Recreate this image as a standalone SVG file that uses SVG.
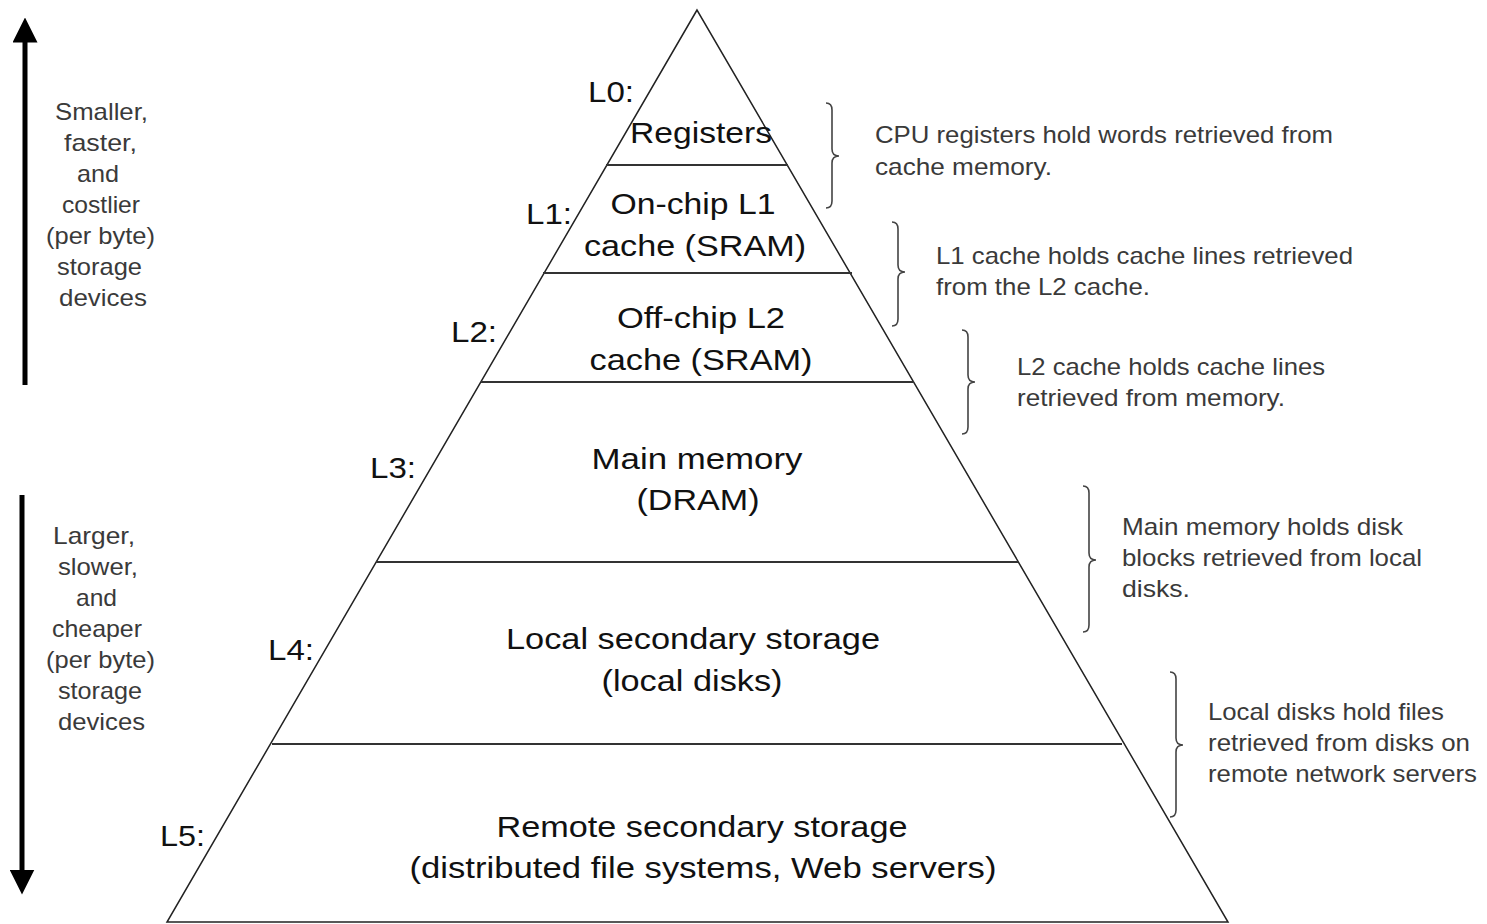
<svg xmlns="http://www.w3.org/2000/svg" width="1487" height="924" viewBox="0 0 1487 924">
<defs>
<style>
.big{font-family:"Liberation Sans",Arial,sans-serif;font-size:30px;fill:#111;text-anchor:middle}
.lvl{font-family:"Liberation Sans",Arial,sans-serif;font-size:30px;fill:#111}
.note{font-family:"Liberation Sans",Arial,sans-serif;font-size:24px;fill:#3a3a3a}
.side{font-family:"Liberation Sans",Arial,sans-serif;font-size:24px;fill:#3a3a3a;text-anchor:middle}
.edge{fill:none;stroke:#222;stroke-width:1.5}
.div{stroke:#333;stroke-width:2.2}
.brace{fill:none;stroke:#444;stroke-width:1.6}
.arrow{stroke:#000;stroke-width:5}
</style>
<marker id="head" viewBox="0 0 10 10" refX="5" refY="5" markerWidth="5" markerHeight="5" orient="auto-start-reverse" markerUnits="strokeWidth">
<path d="M0,0 L10,5 L0,10 z" fill="#000"/>
</marker>
</defs>
<rect width="1487" height="924" fill="#fff"/>

<g id="pyramid">
<polygon class="edge" points="697,10 167,922 1228,922"/>
<line class="div" x1="606" y1="165" x2="788" y2="165"/>
<line class="div" x1="543" y1="273" x2="852" y2="273"/>
<line class="div" x1="481" y1="382" x2="914" y2="382"/>
<line class="div" x1="376" y1="562" x2="1018" y2="562"/>
<line class="div" x1="272" y1="744" x2="1122" y2="744"/>
</g>

<g id="L0">
<text class="lvl" x="588" y="102" textLength="46" lengthAdjust="spacingAndGlyphs">L0:</text>
<text class="big" x="701" y="143" textLength="142" lengthAdjust="spacingAndGlyphs">Registers</text>
</g>
<g id="L1">
<text class="lvl" x="526" y="224" textLength="46" lengthAdjust="spacingAndGlyphs">L1:</text>
<text class="big" x="693" y="214" textLength="165" lengthAdjust="spacingAndGlyphs">On-chip L1</text>
<text class="big" x="695" y="256" textLength="222" lengthAdjust="spacingAndGlyphs">cache (SRAM)</text>
</g>
<g id="L2">
<text class="lvl" x="451" y="342" textLength="46" lengthAdjust="spacingAndGlyphs">L2:</text>
<text class="big" x="701" y="328" textLength="168" lengthAdjust="spacingAndGlyphs">Off-chip L2</text>
<text class="big" x="701" y="370" textLength="223" lengthAdjust="spacingAndGlyphs">cache (SRAM)</text>
</g>
<g id="L3">
<text class="lvl" x="370" y="478" textLength="46" lengthAdjust="spacingAndGlyphs">L3:</text>
<text class="big" x="697" y="469" textLength="211" lengthAdjust="spacingAndGlyphs">Main memory</text>
<text class="big" x="698" y="510" textLength="123" lengthAdjust="spacingAndGlyphs">(DRAM)</text>
</g>
<g id="L4">
<text class="lvl" x="268" y="660" textLength="46" lengthAdjust="spacingAndGlyphs">L4:</text>
<text class="big" x="693" y="649" textLength="374" lengthAdjust="spacingAndGlyphs">Local secondary storage</text>
<text class="big" x="692" y="691" textLength="181" lengthAdjust="spacingAndGlyphs">(local disks)</text>
</g>
<g id="L5">
<text class="lvl" x="160" y="846" textLength="45" lengthAdjust="spacingAndGlyphs">L5:</text>
<text class="big" x="702" y="837" textLength="411" lengthAdjust="spacingAndGlyphs">Remote secondary storage</text>
<text class="big" x="703" y="878" textLength="587" lengthAdjust="spacingAndGlyphs">(distributed file systems, Web servers)</text>
</g>

<g id="side-top">
<text class="side" x="101.5" y="120" textLength="93" lengthAdjust="spacingAndGlyphs">Smaller,</text>
<text class="side" x="100.5" y="151" textLength="73" lengthAdjust="spacingAndGlyphs">faster,</text>
<text class="side" x="98" y="182" textLength="42" lengthAdjust="spacingAndGlyphs">and</text>
<text class="side" x="101" y="213" textLength="78" lengthAdjust="spacingAndGlyphs">costlier</text>
<text class="side" x="100.5" y="244" textLength="109" lengthAdjust="spacingAndGlyphs">(per byte)</text>
<text class="side" x="99.5" y="275" textLength="85" lengthAdjust="spacingAndGlyphs">storage</text>
<text class="side" x="103" y="306" textLength="88" lengthAdjust="spacingAndGlyphs">devices</text>
</g>
<g id="side-bottom">
<text class="side" x="94" y="544" textLength="82" lengthAdjust="spacingAndGlyphs">Larger,</text>
<text class="side" x="98" y="575" textLength="80" lengthAdjust="spacingAndGlyphs">slower,</text>
<text class="side" x="96.5" y="606" textLength="41" lengthAdjust="spacingAndGlyphs">and</text>
<text class="side" x="97" y="637" textLength="90" lengthAdjust="spacingAndGlyphs">cheaper</text>
<text class="side" x="100.5" y="668" textLength="109" lengthAdjust="spacingAndGlyphs">(per byte)</text>
<text class="side" x="100" y="699" textLength="84" lengthAdjust="spacingAndGlyphs">storage</text>
<text class="side" x="101.5" y="730" textLength="87" lengthAdjust="spacingAndGlyphs">devices</text>
</g>

<g id="note-L0">
<text class="note" x="875" y="143" textLength="458" lengthAdjust="spacingAndGlyphs">CPU registers hold words retrieved from</text>
<text class="note" x="875" y="175" textLength="177" lengthAdjust="spacingAndGlyphs">cache memory.</text>
</g>
<g id="note-L1">
<text class="note" x="936" y="264" textLength="417" lengthAdjust="spacingAndGlyphs">L1 cache holds cache lines retrieved</text>
<text class="note" x="936" y="295" textLength="214" lengthAdjust="spacingAndGlyphs">from the L2 cache.</text>
</g>
<g id="note-L2">
<text class="note" x="1017" y="375" textLength="308" lengthAdjust="spacingAndGlyphs">L2 cache holds cache lines</text>
<text class="note" x="1017" y="406" textLength="268" lengthAdjust="spacingAndGlyphs">retrieved from memory.</text>
</g>
<g id="note-L3">
<text class="note" x="1122" y="535" textLength="281" lengthAdjust="spacingAndGlyphs">Main memory holds disk</text>
<text class="note" x="1122" y="566" textLength="300" lengthAdjust="spacingAndGlyphs">blocks retrieved from local</text>
<text class="note" x="1122" y="597" textLength="68" lengthAdjust="spacingAndGlyphs">disks.</text>
</g>
<g id="note-L4">
<text class="note" x="1208" y="720" textLength="236" lengthAdjust="spacingAndGlyphs">Local disks hold files</text>
<text class="note" x="1208" y="751" textLength="262" lengthAdjust="spacingAndGlyphs">retrieved from disks on</text>
<text class="note" x="1208" y="782" textLength="269" lengthAdjust="spacingAndGlyphs">remote network servers</text>
</g>

<g id="connectors">
<line class="arrow" x1="25" y1="385" x2="25" y2="30" marker-end="url(#head)"/>
<line class="arrow" x1="22" y1="495" x2="22" y2="882" marker-end="url(#head)"/>
<path class="brace" d="M826,103 Q832,103 832,110 L832,149 Q832,156 839,156 Q832,156 832,163 L832,201 Q832,208 826,208"/>
<path class="brace" d="M892,222 Q898,222 898,229 L898,265 Q898,272 905,272 Q898,272 898,279 L898,319 Q898,326 892,326"/>
<path class="brace" d="M962,330 Q968,330 968,337 L968,375 Q968,382 975,382 Q968,382 968,389 L968,427 Q968,434 962,434"/>
<path class="brace" d="M1083,486 Q1089,486 1089,493 L1089,553 Q1089,560 1096,560 Q1089,560 1089,567 L1089,625 Q1089,632 1083,632"/>
<path class="brace" d="M1170,672 Q1176,672 1176,679 L1176,738 Q1176,745 1183,745 Q1176,745 1176,752 L1176,810 Q1176,817 1170,817"/>
</g>
</svg>
